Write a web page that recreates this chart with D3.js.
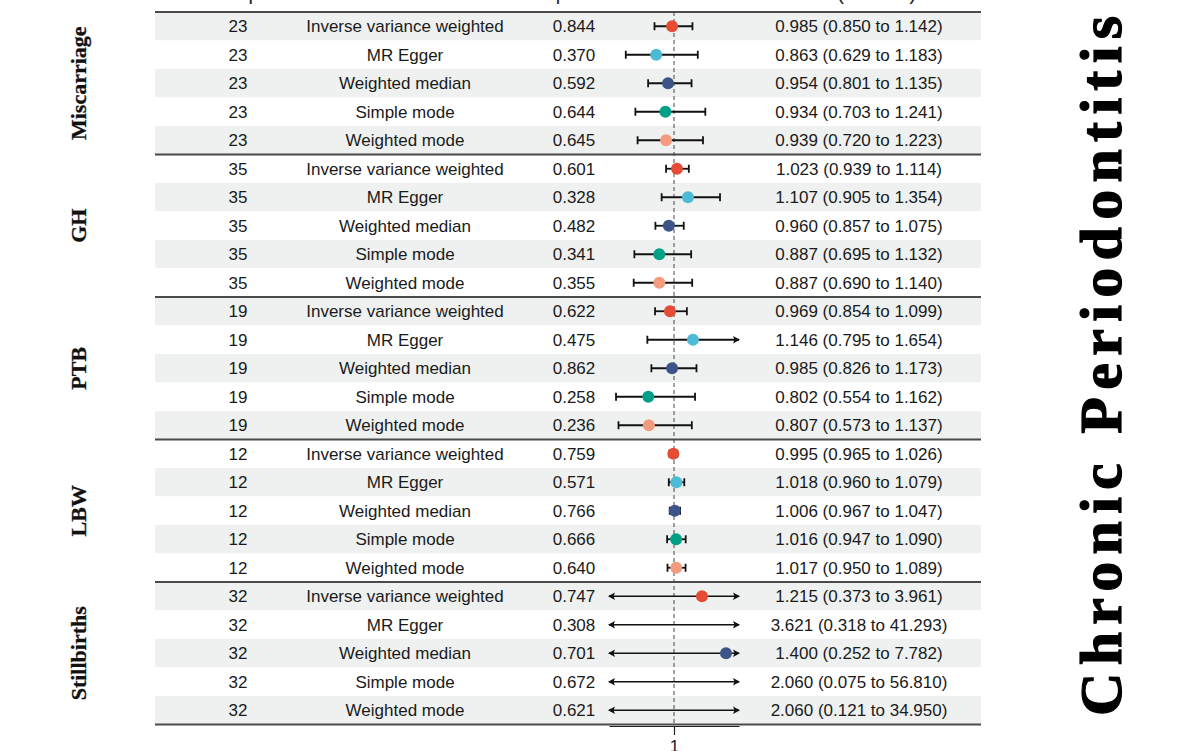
<!DOCTYPE html>
<html>
<head>
<meta charset="utf-8">
<script src="https://cdn.jsdelivr.net/npm/d3@7"></script>
<style>
  body { margin: 0; background: #fff; }
  text { font-family: "Liberation Sans", Arial, sans-serif; }
</style>
</head>
<body>
<div id="forest"></div>
<script>
// outcome groups and MR methods
var outcomes = ["Miscarriage", "GH", "PTB", "LBW", "Stillbirths"];
var methods = ["Inverse variance weighted", "MR Egger", "Weighted median", "Simple mode", "Weighted mode"];
var nsnp = [23, 35, 19, 12, 32];
var methodColors = ["#e64b35", "#4dbbd5", "#3c5488", "#00a087", "#f39b7f"];

// one array per outcome, in the order of methods
var pval = [
  [0.844, 0.370, 0.592, 0.644, 0.645],
  [0.601, 0.328, 0.482, 0.341, 0.355],
  [0.622, 0.475, 0.862, 0.258, 0.236],
  [0.759, 0.571, 0.766, 0.666, 0.640],
  [0.747, 0.308, 0.701, 0.672, 0.621]
];
var or = [
  [0.985, 0.863, 0.954, 0.934, 0.939],
  [1.023, 1.107, 0.960, 0.887, 0.887],
  [0.969, 1.146, 0.985, 0.802, 0.807],
  [0.995, 1.018, 1.006, 1.016, 1.017],
  [1.215, 3.621, 1.400, 2.060, 2.060]
];
var orLow = [
  [0.850, 0.629, 0.801, 0.703, 0.720],
  [0.939, 0.905, 0.857, 0.695, 0.690],
  [0.854, 0.795, 0.826, 0.554, 0.573],
  [0.965, 0.960, 0.967, 0.947, 0.950],
  [0.373, 0.318, 0.252, 0.075, 0.121]
];
var orHigh = [
  [1.142, 1.183, 1.135, 1.241, 1.223],
  [1.114, 1.354, 1.075, 1.132, 1.140],
  [1.099, 1.654, 1.173, 1.162, 1.137],
  [1.026, 1.079, 1.047, 1.090, 1.089],
  [3.961, 41.293, 7.782, 56.810, 34.950]
];
var xLimits = [0.5, 1.5];
var xTicks = [1];
var headers = ["nsnp", "method", "pval", "OR (95% CI)"];

// flatten into rows
var rows = [];
outcomes.forEach(function(o, gi) {
  methods.forEach(function(m, mi) {
    rows.push({group: gi, method: m, mi: mi, nsnp: nsnp[gi], p: pval[gi][mi],
      or: or[gi][mi], lo: orLow[gi][mi], hi: orHigh[gi][mi]});
  });
});

var width = 1177, height = 751;
var tableLeft = 155, tableRight = 981, tableTop = 12, rowH = 28.5;
var colX = {nsnp: 238, method: 405, pval: 574, ci: 859};

var svg = d3.select("#forest").append("svg")
  .attr("width", width).attr("height", height);

var y = d3.scaleBand()
  .domain(d3.range(rows.length))
  .range([tableTop, tableTop + rowH * rows.length]);

var x = d3.scaleLinear().domain(xLimits).range([609, 739]);

var f3 = d3.format(".3f");

// zebra background
svg.append("g").selectAll("rect")
  .data(rows)
  .join("rect")
    .attr("x", tableLeft)
    .attr("y", function(d, i) { return y(i); })
    .attr("width", tableRight - tableLeft)
    .attr("height", y.bandwidth())
    .attr("fill", function(d, i) { return i % 2 === 0 ? "#eef1f0" : "#ffffff"; });

// header row sits above the page edge, only descenders peek through
svg.append("g").selectAll("text")
  .data(headers)
  .join("text")
    .attr("x", function(d, i) { return [colX.nsnp, colX.method, colX.pval, colX.ci][i]; })
    .attr("y", -0.5)
    .attr("text-anchor", "middle")
    .attr("font-size", 20)
    .attr("fill", "#222")
    .text(function(d) { return d; });

// table text
var cells = svg.append("g").attr("font-size", 17).attr("fill", "#1a1a1a").attr("text-anchor", "middle");
function cellText(cx, fn) {
  cells.append("g").selectAll("text")
    .data(rows)
    .join("text")
      .attr("x", cx)
      .attr("y", function(d, i) { return y(i) + y.bandwidth() / 2; })
      .attr("dy", "0.36em")
      .text(fn);
}
cellText(colX.nsnp, function(d) { return d.nsnp; });
cellText(colX.method, function(d) { return d.method; });
cellText(colX.pval, function(d) { return f3(d.p); });
cellText(colX.ci, function(d) { return f3(d.or) + " (" + f3(d.lo) + " to " + f3(d.hi) + ")"; });

// group separators
var seps = [0].concat(outcomes.map(function(o, gi) { return (gi + 1) * methods.length; }));
svg.append("g").selectAll("line")
  .data(seps)
  .join("line")
    .attr("x1", tableLeft).attr("x2", tableRight)
    .attr("y1", function(d) { return tableTop + d * rowH; })
    .attr("y2", function(d) { return tableTop + d * rowH; })
    .attr("stroke", "#4a4a4a")
    .attr("stroke-width", 1.8);

// group labels
svg.append("g").selectAll("text")
  .data(outcomes)
  .join("text")
    .attr("transform", function(d, gi) {
      var cy = tableTop + (gi + 0.5) * methods.length * rowH;
      return "translate(86," + cy + ") rotate(-90)";
    })
    .attr("text-anchor", "middle")
    .style("font-family", "'Liberation Serif', 'Times New Roman', serif")
    .attr("font-weight", "bold")
    .attr("font-size", 22)
    .attr("fill", "#111")
    .attr("stroke", "#111")
    .attr("stroke-width", 0.3)
    .text(function(d) { return d; });

// reference line at 1
svg.append("line")
  .attr("x1", x(1)).attr("x2", x(1))
  .attr("y1", tableTop).attr("y2", tableTop + rowH * rows.length)
  .attr("stroke", "#444")
  .attr("stroke-width", 1)
  .attr("stroke-dasharray", "4,3");

// error bars
var bars = svg.append("g");
rows.forEach(function(d, i) {
  var cy = y(i) + y.bandwidth() / 2;
  var clipL = d.lo < xLimits[0], clipR = d.hi > xLimits[1];
  var x1 = x(Math.max(d.lo, xLimits[0])), x2 = x(Math.min(d.hi, xLimits[1]));
  var sw = (clipL && clipR) ? 1.4 : 1.8;
  bars.append("line")
    .attr("x1", x1).attr("x2", x2).attr("y1", cy).attr("y2", cy)
    .attr("stroke", "#111").attr("stroke-width", sw);
  if (clipL) {
    bars.append("path")
      .attr("d", "M" + (x1 - 1) + "," + cy + "l7,-3.8l-1.5,3.8l1.5,3.8z")
      .attr("fill", "#111");
  } else {
    bars.append("line").attr("x1", x1).attr("x2", x1)
      .attr("y1", cy - 4).attr("y2", cy + 4)
      .attr("stroke", "#111").attr("stroke-width", 1.8);
  }
  if (clipR) {
    bars.append("path")
      .attr("d", "M" + (x2 + 1) + "," + cy + "l-7,-3.8l1.5,3.8l-1.5,3.8z")
      .attr("fill", "#111");
  } else {
    bars.append("line").attr("x1", x2).attr("x2", x2)
      .attr("y1", cy - 4).attr("y2", cy + 4)
      .attr("stroke", "#111").attr("stroke-width", 1.8);
  }
});

// point estimates (only those inside the axis limits)
svg.append("g").selectAll("circle")
  .data(rows.map(function(d, i) { d.i = i; return d; })
    .filter(function(d) { return d.or >= xLimits[0] && d.or <= xLimits[1]; }))
  .join("circle")
    .attr("cx", function(d) { return x(d.or); })
    .attr("cy", function(d) { return y(d.i) + y.bandwidth() / 2; })
    .attr("r", 6)
    .attr("fill", function(d) { return methodColors[d.mi]; });

// x axis
var axisY = tableTop + rowH * rows.length + 1.5;
var ax = svg.append("g")
  .attr("transform", "translate(0," + axisY + ")")
  .call(d3.axisBottom(x).tickValues(xTicks).tickSizeInner(9).tickSizeOuter(0).tickFormat(d3.format("d")));
ax.select(".domain").attr("stroke", "#222").attr("stroke-width", 1.2);
ax.selectAll(".tick line").attr("stroke", "#222").attr("stroke-width", 1.2);
ax.selectAll(".tick text")
  .attr("font-size", 17)
  .attr("fill", "#222")
  .attr("font-family", "'Liberation Sans', Arial, sans-serif")
  .attr("dy", "0.8em");

// exposure title on the right
svg.append("text")
  .attr("transform", "translate(1121,366) rotate(-90)")
  .attr("text-anchor", "middle")
  .style("font-family", "'Liberation Serif', 'Times New Roman', serif")
  .attr("font-weight", "bold")
  .attr("font-size", 60)
  .attr("fill", "#000")
  .attr("stroke", "#000")
  .attr("stroke-width", 1.2)
  .attr("textLength", 700)
  .attr("lengthAdjust", "spacing")
  .text("Chronic Periodontitis");
</script>
</body>
</html>
